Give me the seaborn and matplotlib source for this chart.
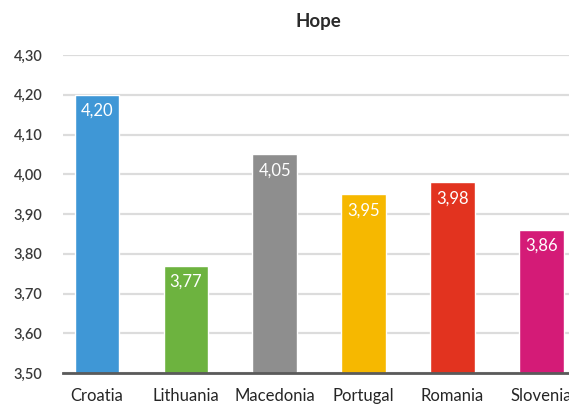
import matplotlib
matplotlib.use("Agg")
import matplotlib.pyplot as plt
import seaborn as sns
import pandas as pd

countries = ["Croatia", "Lithuania", "Macedonia", "Portugal", "Romania", "Slovenia"]
hope_scores = [4.20, 3.77, 4.05, 3.95, 3.98, 3.86]
bar_colors = ["#3f97d6", "#6db33f", "#8e8e8e", "#f6b800", "#e2331f", "#d41b77"]
y_ticks = [3.50, 3.60, 3.70, 3.80, 3.90, 4.00, 4.10, 4.20, 4.30]

sns.set_theme(style="white")
plt.rcParams["font.family"] = ["Lato", "DejaVu Sans"]

df = pd.DataFrame({"country": countries, "hope": hope_scores})

fig = plt.figure(figsize=(5.69, 4.04), dpi=100)
ax = fig.add_axes([63 / 569, 31 / 404, 523 / 569, 318 / 404])

sns.barplot(data=df, x="country", y="hope", hue="country", palette=bar_colors,
            width=0.5, saturation=1, legend=False, ax=ax, zorder=3)

ax.set_ylim(3.5, 4.3)
ax.set_xlim(-0.38, 5.5)
ax.set_yticks(y_ticks)
ax.set_yticklabels([f"{t:.2f}".replace(".", ",") for t in y_ticks])
ax.yaxis.grid(True, color="#dcdcdc", linewidth=1.6, zorder=0)
ax.xaxis.grid(False)
for side in ["top", "right", "left"]:
    ax.spines[side].set_visible(False)
ax.spines["bottom"].set_color("#5a5a5a")
ax.spines["bottom"].set_linewidth(2)
ax.spines["bottom"].set_zorder(4)
ax.tick_params(axis="y", length=0, pad=15, labelsize=10.5, labelcolor="#3a3a3a")
ax.tick_params(axis="x", length=0, pad=11, labelsize=12, labelcolor="#262626")
for lbl in ax.get_yticklabels():
    lbl.set_fontweight("semibold")
ax.set_xlabel("")
ax.set_ylabel("")

for i, v in enumerate(hope_scores):
    ax.annotate(f"{v:.2f}".replace(".", ","), xy=(i, v), xytext=(0, -16),
                textcoords="offset pixels", ha="center", va="center",
                color="white", fontsize=12, zorder=5)

fig.text(318 / 569, 1 - 22 / 404, "Hope", ha="center", va="center",
         fontsize=13.5, fontweight="bold", color="#2a2a2a")

fig.savefig("out.png", dpi=100)
